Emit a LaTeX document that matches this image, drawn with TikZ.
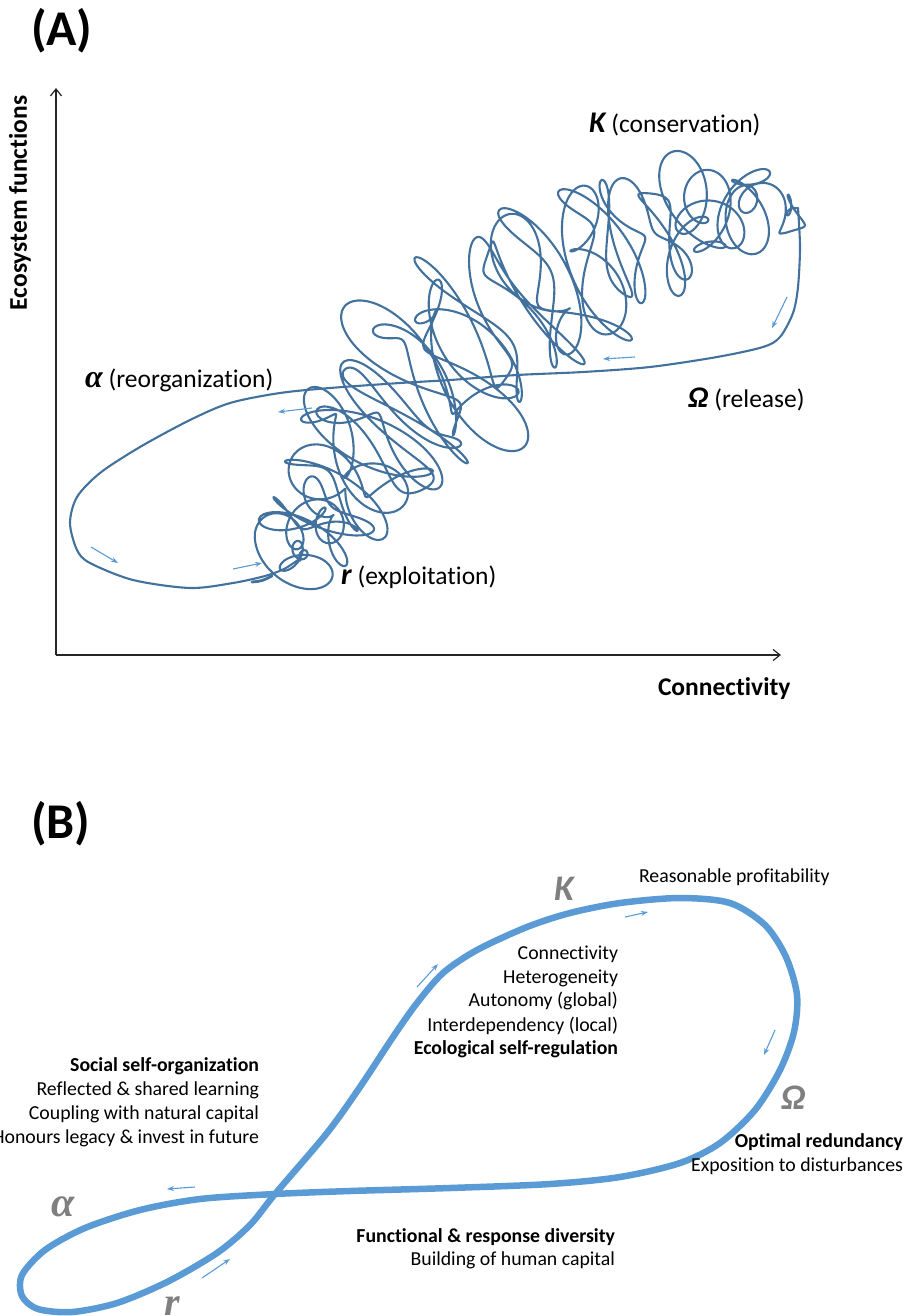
\documentclass[tikz,border=0pt]{standalone}
\usepackage{fontspec}
\setmainfont{Carlito}[Ligatures={NoCommon,NoRare}]
\newfontfamily\grk{Liberation Serif}
\usetikzlibrary{arrows.meta}
\definecolor{curvecol}{HTML}{41719C}
\definecolor{lblue}{HTML}{5B9BD5}
\definecolor{lgray}{HTML}{7F7F7F}
\tikzset{
  lbl/.style={inner sep=0pt, outer sep=0pt},
  txtA/.style={lbl, font=\fontsize{25.5}{30}\selectfont},
  txtB/.style={lbl, font=\fontsize{19.8}{24}\selectfont},
  smallarrow/.style={draw=lblue, line width=1.1pt, -{Stealth[length=7pt,width=5pt]}},
  axisline/.style={line width=1.2pt, draw=black!85, -{Straight Barb[length=7pt,width=11pt]}},
  curveA/.style={draw=curvecol, line width=2.1pt, line join=round, line cap=round},
  curveB/.style={draw=lblue, line width=6.5pt},
  declare function={
    bx(\u)=(1-\u)^3*298+3*(1-\u)^2*\u*335+3*(1-\u)*\u^2*540+\u^3*798;
    by(\u)=(1-\u)^3*560+3*(1-\u)^2*\u*465+3*(1-\u)*\u^2*200+\u^3*208;
    ang(\u)=-66+44*\u+24*\u*\u;
    env(\u)=min(1,min(20*\u,30*(1-\u)));
    wid(\u)=12+64*sin(180*\u);
    cw(\u)=wid(\u)*sin(360*frac(31.3*\u))+12*sin(360*frac(51.7*\u)+50);
    aw(\u)=20*sin(360*frac(17.7*\u)+10);
    lr(\u)=15*(1+0.55*sin(360*frac(4.7*\u)+20));
    sx(\u)=bx(\u)+env(\u)*(lr(\u)*cos(360*frac(72*\u))+8*cos(360*frac(8.3*\u)+30)-sin(ang(\u))*cw(\u)+cos(ang(\u))*aw(\u));
    sy(\u)=by(\u)+env(\u)*(lr(\u)*sin(360*frac(72*\u))+8*sin(360*frac(6.1*\u)+70)+cos(ang(\u))*cw(\u)+sin(ang(\u))*aw(\u));
  }
}
\begin{document}
\begin{tikzpicture}[x=1pt,y=-1pt]
\useasboundingbox (0,0) rectangle (905,1316);

% ---------------- (A) ----------------
\node[lbl, anchor=base west, font=\fontsize{50}{50}\selectfont\bfseries] (labA) at (31,46) {(A)};
\coordinate (orig) at (56,655);
\coordinate (ytop) at (56,88);
\coordinate (xend) at (781,655);
\draw[axisline] (orig) -- (ytop);
\draw[axisline] (orig) -- (xend);
\node[txtA, font=\fontsize{25.5}{30}\selectfont\bfseries, rotate=90] (ylab) at (20,203) {Ecosystem functions};
\node[txtA, font=\fontsize{25.5}{30}\selectfont\bfseries, anchor=base west] (xlab) at (658,695) {Connectivity};

% scribble
\draw[curveA] plot[smooth, domain=0:1, samples=1700, variable=\t] ({sx(\t)},{sy(\t)});
% big loop
\draw[curveA] plot[smooth] coordinates {(798,208) (800,247) (798,287) (793,313) (780,337) (763,347) (717,357) (650,367) (583,372) (517,375) (450,380) (400,383) (330,388) (280,393) (230,403) (190,420) (140,447) (100,473) (77,497) (70,523) (77,550) (90,563) (133,580) (190,588) (233,583) (265,576) (284,569) (298,560)};
\draw[curveA, line width=2.8pt] (252,582) .. controls (262,581) .. (272,576);

% small arrows A
\coordinate (a1s) at (787,297); \coordinate (a1e) at (772,328);
\coordinate (a2s) at (635,357); \coordinate (a2e) at (603,359);
\coordinate (a3s) at (312,408); \coordinate (a3e) at (278,412);
\coordinate (a4s) at (91,547);  \coordinate (a4e) at (118,563);
\coordinate (a5s) at (233,569); \coordinate (a5e) at (262,563);
\foreach \i in {1,...,5} \draw[smallarrow] (a\i s) -- (a\i e);

% labels A
\node[txtA, anchor=base west] (alphaA) at (85,387) {{\grk\bfseries\itshape\fontsize{32}{32}\selectfont α}\hspace{6pt}(reorganization)};
\node[txtA, anchor=base west] (kA) at (589,133) {{\bfseries\itshape\fontsize{30}{30}\selectfont K}\hspace{6pt}(conservation)};
\node[txtA, anchor=base west] (omA) at (688,407) {{\bfseries\itshape\fontsize{30}{30}\selectfont Ω}\hspace{6pt}(release)};
\node[txtA, anchor=base west] (rA) at (341,584) {{\bfseries\itshape\fontsize{30}{30}\selectfont r}\hspace{6pt}(exploitation)};

% ---------------- (B) ----------------
\node[lbl, anchor=base west, font=\fontsize{50}{50}\selectfont\bfseries] (labB) at (31,838) {(B)};

\draw[curveB] plot[smooth cycle] coordinates {
 (167,1282) (217,1253) (250,1225) (275,1194) (327,1133) (360,1087) (393,1037) (417,1003) (443,973)
 (477,950) (527,927) (570,913) (620,903) (680,898) (730,903) (765,925) (786,957) (797,995) (794,1032)
 (780,1070) (755,1110) (720,1143) (680,1163) (620,1177) (550,1184) (450,1188) (350,1191)
 (275,1194) (200,1199) (140,1210) (85,1228) (45,1250) (22,1275) (22,1296) (38,1309) (72,1312) (117,1303)};

% small arrows B
\coordinate (b1s) at (417,987);  \coordinate (b1e) at (438,964);
\coordinate (b2s) at (625,917);  \coordinate (b2e) at (648,912);
\coordinate (b3s) at (775,1030); \coordinate (b3e) at (764,1055);
\coordinate (b4s) at (195,1187); \coordinate (b4e) at (167,1189);
\coordinate (b5s) at (202,1278); \coordinate (b5e) at (230,1259);
\foreach \i in {1,...,5} \draw[smallarrow] (b\i s) -- (b\i e);

% Greek labels B
\node[lbl, anchor=base west, text=lgray, font=\fontsize{36}{36}\selectfont\bfseries\itshape] (kB) at (554,900) {K};
\node[lbl, anchor=base west, text=lgray, font=\fontsize{36}{36}\selectfont\bfseries\itshape] (omB) at (781,1109) {Ω};
\node[lbl, anchor=base west, text=lgray, font=\grk\fontsize{42}{42}\selectfont\bfseries\itshape] (alB) at (51,1216) {α};
\node[lbl, anchor=base west, text=lgray, font=\grk\fontsize{40}{40}\selectfont\bfseries\itshape] (rB) at (164,1315) {r};

% text B
\node[txtB, anchor=base west] (prof) at (639,882) {Reasonable profitability};
\node[txtB, anchor=base east] (k1) at (618,959) {Connectivity};
\node[txtB, anchor=base east] (k2) at (618,983) {Heterogeneity};
\node[txtB, anchor=base east] (k3) at (618,1006) {Autonomy (global)};
\node[txtB, anchor=base east] (k4) at (618,1031) {Interdependency (local)};
\node[txtB, anchor=base east, font=\fontsize{19.8}{24}\selectfont\bfseries] (k5) at (618,1054) {Ecological self-regulation};

\node[txtB, anchor=base east, font=\fontsize{19.8}{24}\selectfont\bfseries] (s1) at (259,1071) {Social self-organization};
\node[txtB, anchor=base east] (s2) at (259,1095) {Reflected \& shared learning};
\node[txtB, anchor=base east] (s3) at (259,1119) {Coupling with natural capital};
\node[txtB, anchor=base east] (s4) at (259,1143) {Honours legacy \& invest in future};

\node[txtB, anchor=base east, font=\fontsize{19.8}{24}\selectfont\bfseries] (o1) at (903,1147) {Optimal redundancy};
\node[txtB, anchor=base east] (o2) at (903,1171) {Exposition to disturbances};

\node[txtB, anchor=base east, font=\fontsize{19.8}{24}\selectfont\bfseries] (f1) at (615,1242) {Functional \& response diversity};
\node[txtB, anchor=base east] (f2) at (615,1265) {Building of human capital};
\end{tikzpicture}
\end{document}
